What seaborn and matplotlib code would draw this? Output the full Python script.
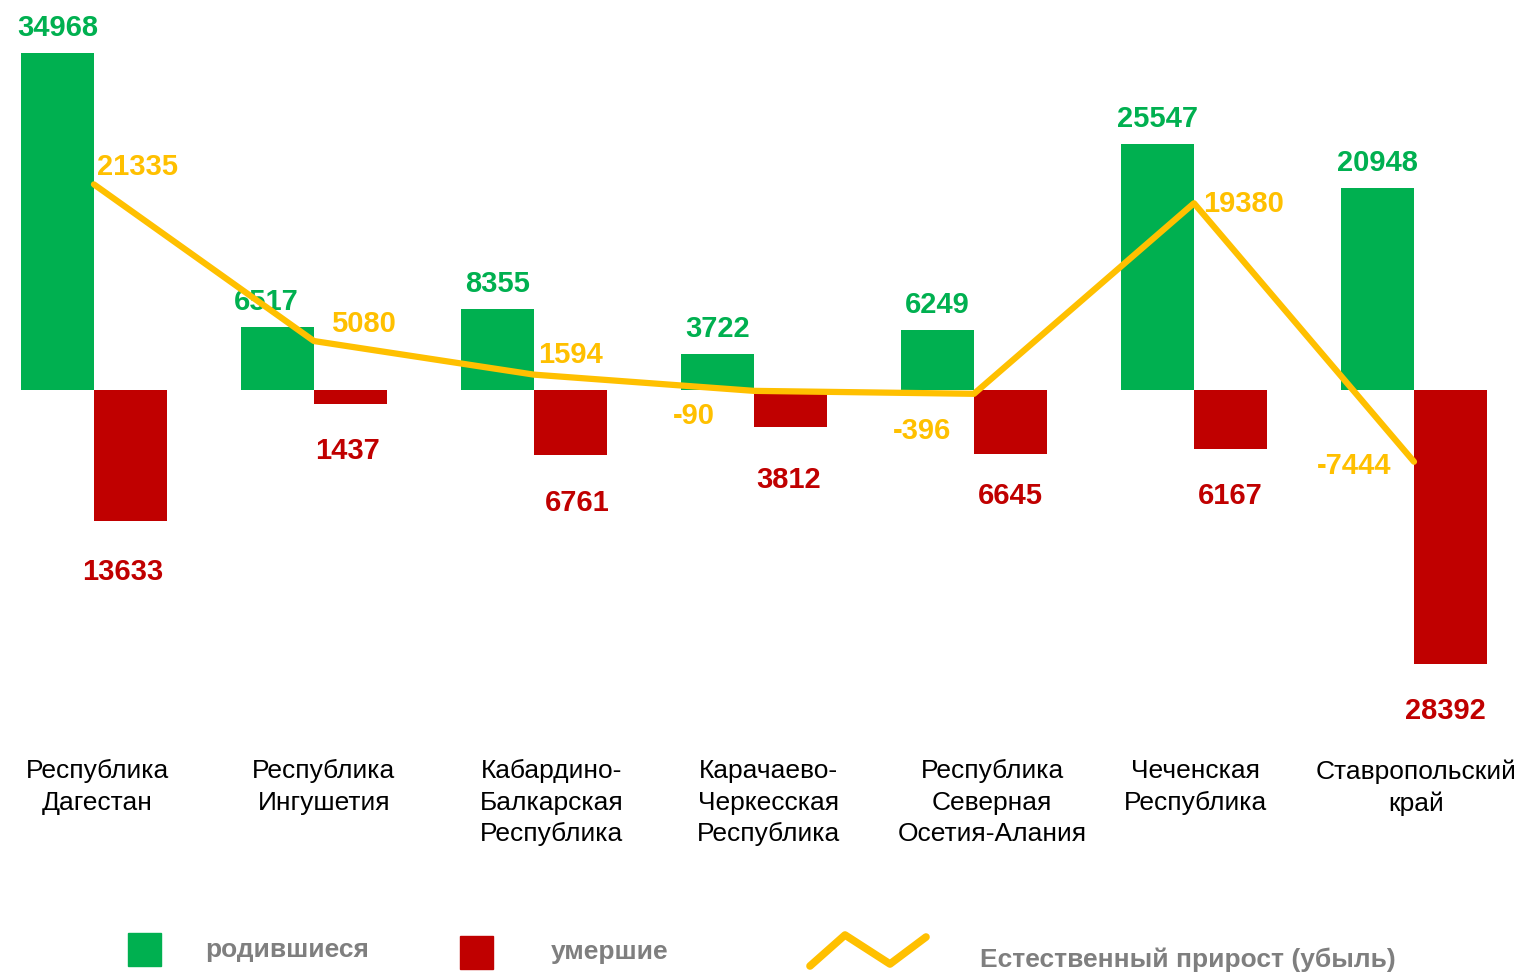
import numpy as np
import pandas as pd
import matplotlib
matplotlib.use("Agg")
import matplotlib.pyplot as plt
from matplotlib.patches import Rectangle
from matplotlib.lines import Line2D
import seaborn as sns

# Data
regions = ["Республика\nДагестан", "Республика\nИнгушетия",
           "Кабардино-\nБалкарская\nРеспублика", "Карачаево-\nЧеркесская\nРеспублика",
           "Республика\nСеверная\nОсетия-Алания", "Чеченская\nРеспублика",
           "Ставропольский\nкрай"]
births = [34968, 6517, 8355, 3722, 6249, 25547, 20948]
deaths = [13633, 1437, 6761, 3812, 6645, 6167, 28392]
growth = [21335, 5080, 1594, -90, -396, 19380, -7444]
legend_labels = ["родившиеся", "умершие", "Естественный прирост (убыль)"]

GREEN = "#00B050"
RED = "#C00000"
YELLOW = "#FFC000"
GREY = "#7F7F7F"

sns.set_style("white")
plt.rcParams['font.family'] = ['Liberation Sans', 'DejaVu Sans']

df = pd.DataFrame({
    "region": regions * 2,
    "kind": ["births"] * len(regions) + ["deaths"] * len(regions),
    "value": births + [-d for d in deaths],
})

W, H = 1522, 974
fig = plt.figure(figsize=(W / 100, H / 100), dpi=100)
ax = fig.add_axes([0, 0, 1, 1])

bar_w = 0.332
sns.barplot(data=df, x="region", y="value", hue="kind", palette=[GREEN, RED],
            width=2 * bar_w, saturation=1, linewidth=0, legend=False, ax=ax)

x = np.arange(len(regions))
sns.lineplot(x=x, y=growth, color=YELLOW, linewidth=4.5, sort=False, ax=ax,
             zorder=4, solid_capstyle="round", solid_joinstyle="round")

ax.set_xlim(-0.427, 6.491)
ax.set_ylim(-60600, 40468)
ax.axis("off")

px = 0.72  # pixels -> points
birth_dx = [0, -11, 0, 0, 0, 0, 0]
for i, v in enumerate(births):
    ax.annotate(str(v), (i - bar_w / 2, v), xytext=(birth_dx[i] * px, 25 * px),
                textcoords="offset points", ha="center", va="center",
                color=GREEN, fontsize=21, fontweight="bold")

death_offsets = [(-8, 51), (-3, 47), (7, 48), (-2, 53), (0, 42), (0, 47), (-5, 47)]
for i, v in enumerate(deaths):
    dx, dy = death_offsets[i]
    ax.annotate(str(v), (i + bar_w / 2, -v), xytext=(dx * px, -dy * px), textcoords="offset points",
                ha="center", va="center", color=RED, fontsize=21, fontweight="bold")

growth_offsets = [(3, 17, "left"), (17, 17, "left"), (4, 20, "left"), (-39, -25, "right"),
                  (-23, -37, "right"), (9, -1, "left"), (-23, -4, "right")]
for i, v in enumerate(growth):
    dx, dy, ha = growth_offsets[i]
    ax.annotate(str(v), (i, v), xytext=(dx * px, dy * px), textcoords="offset points",
                ha=ha, va="center", color=YELLOW, fontsize=21, fontweight="bold")

trans = ax.get_xaxis_transform()
name_shift = [0.014, 0.045, 0.082, 0.068, 0.082, 0.005, 0.009]
for i, name in enumerate(regions):
    ax.text(i + name_shift[i], 1 - 759 / H, name, transform=trans, ha="center", va="top",
            fontsize=19, color="black", linespacing=1.4)

# Legend drawn by hand
def fx(p):
    return p / W

def fy(p):
    return 1 - p / H

fig.patches.append(Rectangle((fx(128), fy(966)), fx(33), 33 / H, color=GREEN,
                             transform=fig.transFigure))
fig.patches.append(Rectangle((fx(460), fy(969)), fx(33), 33 / H, color=RED,
                             transform=fig.transFigure))
fig.lines.append(Line2D([fx(810), fx(845), fx(890), fx(926)],
                        [fy(966), fy(935), fy(964), fy(937)], color=YELLOW, linewidth=5.5,
                        transform=fig.transFigure))
for (lx, ly), lab in zip([(205, 950), (551, 952), (980, 960)], legend_labels):
    fig.text(fx(lx), fy(ly), lab, ha="left", va="center", fontsize=19,
             fontweight="bold", color=GREY)

fig.savefig("out.png", dpi=100)
